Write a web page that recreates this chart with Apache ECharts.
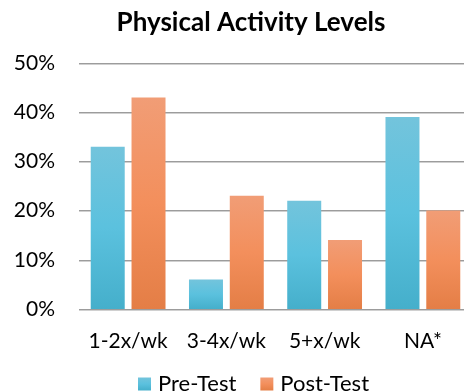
<!DOCTYPE html>
<html>
<head>
<meta charset="utf-8">
<script src="https://cdn.jsdelivr.net/npm/echarts@6/dist/echarts.min.js"></script>
<style>
  html, body { margin: 0; padding: 0; background: #fff; }
  #chart { width: 464px; height: 391px; }
</style>
</head>
<body>
<div id="chart"></div>
<script>
const categories = ['1-2x/wk', '3-4x/wk', '5+x/wk', 'NA*']
const preTest = [33, 6, 22, 39]
const postTest = [43, 23, 14, 20]

const font = 'Lato, "Open Sans", sans-serif'

const chart = echarts.init(document.getElementById('chart'))

// vertical gradients like the Excel bars
const grad = (top, mid, bottom) => new echarts.graphic.LinearGradient(0, 0, 0, 1, [
  { offset: 0, color: top },
  { offset: 0.5, color: mid },
  { offset: 1, color: bottom }
])

const option = {
  animation: false,
  title: {
    text: 'Physical Activity Levels',
    left: 246,
    textAlign: 'center',
    top: 5,
    textStyle: { fontFamily: font, fontSize: 26, fontWeight: 'bold', color: '#000' }
  },
  legend: {
    top: 368,
    left: 133,
    itemWidth: 13,
    itemHeight: 13,
    itemGap: 24,
    icon: 'rect',
    textStyle: { fontFamily: font, fontSize: 22, color: '#000', padding: [0, 0, 0, 2] },
    data: ['Pre-Test', 'Post-Test']
  },
  grid: { left: 79, width: 393, top: 63, height: 246, outerBoundsMode: 'none', containLabel: false },
  xAxis: {
    type: 'category',
    data: categories,
    axisLine: { show: false },
    axisTick: { show: false },
    axisLabel: { interval: 0, fontFamily: font, fontSize: 21, color: '#000', margin: 22 }
  },
  yAxis: {
    type: 'value',
    min: 0,
    max: 50,
    interval: 10,
    axisLine: { show: false },
    axisTick: { show: false },
    axisLabel: { formatter: '{value}%', fontFamily: font, fontSize: 21, color: '#000', margin: 24 },
    splitLine: { lineStyle: { color: '#9c9c9c', width: 1, shadowColor: '#d0d0d0', shadowOffsetY: 1 } }
  },
  series: [
    {
      name: 'Pre-Test',
      type: 'bar',
      data: preTest,
      barWidth: '34.6%',
      barGap: '20%',
      itemStyle: { color: grad('#73c4dc', '#5bc1de', '#45afcb') }
    },
    {
      name: 'Post-Test',
      type: 'bar',
      data: postTest,
      barWidth: '34.6%',
      itemStyle: { color: grad('#f19d76', '#f38f5c', '#e47e46') }
    }
  ]
}

chart.setOption(option)
</script>
</body>
</html>
